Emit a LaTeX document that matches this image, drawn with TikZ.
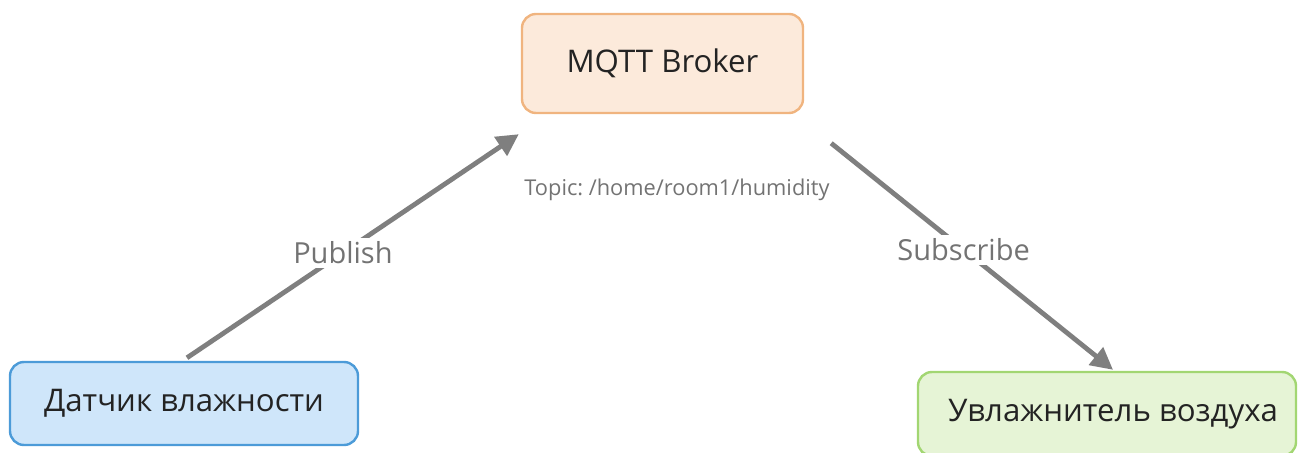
\documentclass[tikz,border=0pt]{standalone}
\usepackage{fontspec}
\setmainfont{Open Sans}
\usepackage{xcolor}
\usetikzlibrary{arrows.meta,positioning,calc}
\frenchspacing

\definecolor{brokerfill}{HTML}{FCEADB}
\definecolor{brokerline}{HTML}{F0B47F}
\definecolor{sensorfill}{HTML}{CFE6FA}
\definecolor{sensorline}{HTML}{4C9BD8}
\definecolor{humfill}{HTML}{E6F4D6}
\definecolor{humline}{HTML}{A2D672}
\definecolor{arrowgray}{HTML}{7F7F7F}
\definecolor{labelgray}{HTML}{737373}
\definecolor{textdark}{HTML}{232323}

\begin{document}
\begin{tikzpicture}[x=0.5pt,y=-0.5pt,
  box/.style={draw, line width=1.2pt, rounded corners=7pt, text=textdark, inner sep=0pt},
  flow/.style={draw=arrowgray, line width=2.4pt, -{Triangle[length=11pt,width=11pt]}},
  flowlabel/.style={fill=white, text=labelgray, font=\fontsize{14.5}{16}\selectfont, inner sep=2pt}]
  \useasboundingbox (0,0) rectangle (1302,453);

  % nodes
  \node [box, fill=brokerfill, draw=brokerline, minimum width=140.5pt, minimum height=49.5pt,
    font=\fontsize{15.6}{18}\selectfont] (broker) at (662.5,63.5) {MQTT Broker};
  \node [box, fill=sensorfill, draw=sensorline, minimum width=174pt, minimum height=41.5pt,
    font=\fontsize{15.6}{18}\selectfont] (sensor) at (184,403.5) {Датчик влажности};
  \node [box, fill=humfill, draw=humline, minimum width=189pt, minimum height=42pt,
    font=\fontsize{15.6}{18}\selectfont] (humidifier) at (1107,414) {\hspace*{6pt}Увлажнитель воздуха};
  \node [text=labelgray, font=\fontsize{10.9}{12}\selectfont] (topic) at (677,190) {Topic: /home/room1/humidity};

  % connectors
  \coordinate (pubend) at ($(broker.south west)+(-2,20)$);
  \coordinate (subbeg) at ($(broker.south east)+(27,29)$);
  \draw [flow] ($(sensor.north)+(3,-3)$) -- node [flowlabel, pos=0.47] (publish) {Publish} (pubend);
  \draw [flow] (subbeg) -- node [flowlabel, pos=0.47] (subscribe) {Subscribe} ($(humidifier.north)+(6,-1)$);
\end{tikzpicture}
\end{document}
